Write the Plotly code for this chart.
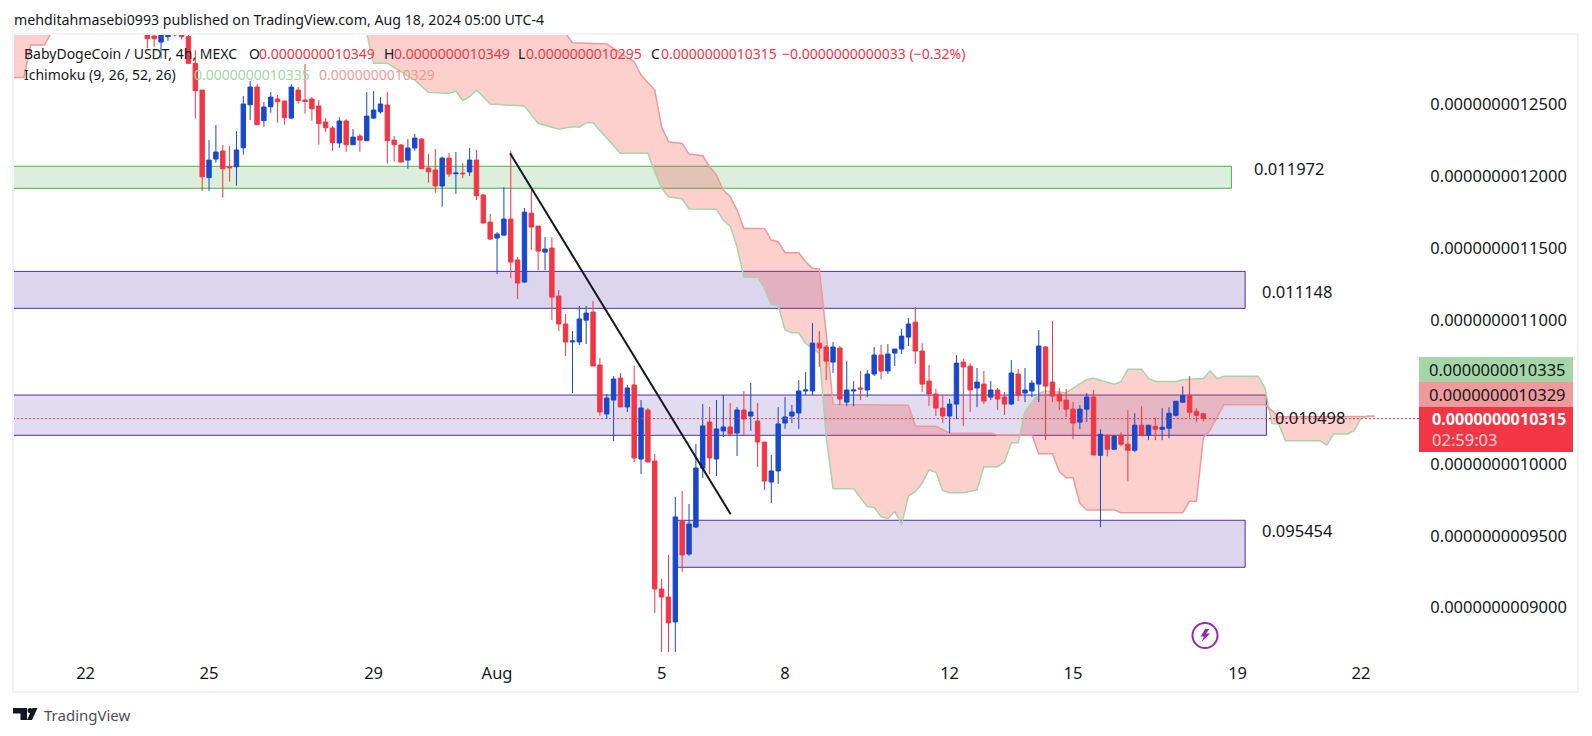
import plotly.graph_objects as go

# prices are kept in units of 1e-13 USDT, bars are counted from Jul 22 00:00 (4h each)
SCALE = 1e-13
PAGE_PAD = 8  # the browser adds this body margin round the figure
W, H = 1576, 720
L_PX, R_PX, T_PX, B_PX = 13, 1420, 34, 656

UP = "#1848cc"
DOWN = "#f23645"
INK = "#131722"

first_bar = 7
bar_open = [13010, 13040, 13020, 12976, 12934, 12971, 12985, 12987, 12971, 12786,
            12600, 11991, 12120, 12176, 12067, 12067, 12199, 12498, 12621, 12387,
            12484, 12538, 12524, 12405, 12600, 12531, 12538, 12489, 12378, 12336,
            12232, 12385, 12220, 12280, 12248, 12405, 12449, 12496, 12252, 12218,
            12113, 12197, 12259, 12058, 12044, 11933, 12127, 12018, 12023, 12030,
            12113, 11870, 11682, 11571, 11591, 11703, 11418, 11265, 11744, 11654,
            11473, 11501, 11167, 10973, 10848, 10848, 11000, 11056, 10688, 10347,
            10444, 10597, 10396, 10549, 10034, 10375, 10020, 9130, 9074, 8901,
            9603, 9373, 9561, 9971, 10291, 10034, 10229, 10257, 10215, 10375,
            10333, 10298, 10152, 9874, 9951, 10284, 10333, 10354, 10507, 10507,
            10840, 10813, 10708, 10806, 10430, 10507, 10528, 10514, 10625, 10757,
            10646, 10771, 10799, 10882, 10986, 10785, 10576, 10486, 10388, 10333,
            10416, 10708, 10680, 10528, 10555, 10465, 10514, 10465, 10416, 10625,
            10493, 10507, 10555, 10813, 10569, 10486, 10444, 10381, 10291, 10381,
            10465, 10060, 10199, 10102, 10199, 10137, 10095, 10269, 10199, 10262,
            10241, 10248, 10338, 10429, 10475, 10366, 10349]
bar_high = [13040, 13080, 13040, 12990, 13030, 13040, 13020, 13010, 13030, 12878,
            12600, 12252, 12357, 12218, 12211, 12315, 12558, 12663, 12642, 12517,
            12586, 12565, 12524, 12642, 12621, 12781, 12551, 12531, 12405, 12350,
            12412, 12398, 12329, 12294, 12586, 12593, 12551, 12586, 12280, 12225,
            12259, 12294, 12266, 12155, 12190, 12137, 12162, 12169, 12092, 12197,
            12183, 11877, 11738, 11612, 11925, 12176, 11438, 11779, 11911, 11654,
            11577, 11577, 11209, 11042, 10924, 11098, 11098, 11132, 10736, 10486,
            10611, 10632, 10549, 10681, 10444, 10389, 10069, 9200, 9367, 9770,
            9812, 9721, 10138, 10417, 10396, 10444, 10479, 10424, 10396, 10507,
            10563, 10424, 10152, 10062, 10396, 10465, 10410, 10583, 10639, 10980,
            10924, 10827, 10847, 10820, 10715, 10576, 10646, 10653, 10813, 10827,
            10833, 10799, 10938, 11014, 11091, 10840, 10687, 10521, 10479, 10451,
            10757, 10729, 10701, 10667, 10646, 10576, 10528, 10500, 10722, 10660,
            10667, 10583, 10931, 10820, 10993, 10528, 10521, 10430, 10409, 10493,
            10514, 10241, 10206, 10199, 10220, 10373, 10352, 10401, 10269, 10324,
            10387, 10394, 10436, 10540, 10610, 10387, 10349]
bar_low = [12985, 13020, 12890, 12901, 12820, 12943, 12975, 12952, 12786, 12403,
           11900, 11900, 12095, 11851, 11963, 11935, 12150, 12392, 12359, 12345,
           12442, 12373, 12359, 12401, 12505, 12436, 12387, 12220, 12310, 12178,
           12199, 12171, 12220, 12171, 12248, 12398, 12436, 12088, 12102, 12099,
           12053, 12178, 12053, 11956, 11886, 11789, 11997, 11877, 11988, 12002,
           11835, 11673, 11557, 11320, 11591, 11292, 11146, 11258, 11487, 11348,
           11348, 11000, 10924, 10750, 10493, 10827, 10834, 10681, 10335, 10312,
           10159, 10396, 10361, 10013, 9930, 10013, 8963, 8692, 8692, 8692,
           9248, 9360, 9554, 9902, 9930, 9916, 10187, 10201, 10055, 10201,
           10229, 9978, 9819, 9728, 9860, 10243, 10284, 10243, 10479, 10479,
           10674, 10583, 10632, 10409, 10402, 10402, 10444, 10465, 10611, 10590,
           10625, 10680, 10764, 10820, 10694, 10500, 10402, 10333, 10284, 10215,
           10312, 10263, 10361, 10395, 10416, 10444, 10375, 10340, 10409, 10437,
           10430, 10465, 10430, 10166, 10430, 10375, 10326, 10173, 10242, 10291,
           10062, 9560, 10053, 10095, 10123, 9879, 10081, 10199, 10165, 10165,
           10165, 10178, 10331, 10429, 10324, 10290, 10295]
bar_close = [13030, 13060, 12957, 12957, 13010, 13010, 13000, 12971, 12786, 12596,
             11997, 12113, 12169, 12053, 12060, 12183, 12503, 12621, 12359, 12482,
             12551, 12519, 12408, 12621, 12526, 12521, 12470, 12366, 12338, 12234,
             12385, 12220, 12273, 12252, 12419, 12461, 12503, 12248, 12220, 12099,
             12197, 12266, 12053, 12032, 11933, 12127, 12016, 12023, 12018, 12113,
             11865, 11675, 11564, 11598, 11703, 11404, 11258, 11751, 11647, 11480,
             11494, 11160, 10973, 10848, 10855, 11008, 11049, 10681, 10361, 10458,
             10590, 10396, 10528, 10041, 10389, 10013, 9130, 9074, 8894, 9631,
             9367, 9582, 9971, 10264, 10041, 10243, 10257, 10208, 10375, 10312,
             10361, 10152, 9881, 9951, 10278, 10326, 10361, 10507, 10514, 10840,
             10806, 10715, 10813, 10451, 10514, 10514, 10521, 10625, 10757, 10646,
             10764, 10799, 10889, 10973, 10785, 10555, 10486, 10388, 10333, 10416,
             10701, 10674, 10514, 10569, 10437, 10514, 10451, 10416, 10632, 10476,
             10514, 10562, 10820, 10541, 10472, 10437, 10381, 10284, 10381, 10465,
             10062, 10206, 10102, 10192, 10137, 10095, 10269, 10199, 10269, 10241,
             10255, 10352, 10436, 10475, 10359, 10338, 10315]

bar_index = list(range(first_bar, first_bar + len(bar_open)))

# the bit of cloud still showing at the far left, closed above the frame
left_cloud_bars = [-11, -9, -8, -6, -5, -11]
left_cloud = [12688, 12688, 12913, 12913, 13000, 13000]

lead_a_bars = [41, 42, 44, 48, 50, 53, 54, 55, 56, 57, 59, 64, 66,
               69, 71, 72, 73, 74, 78, 82, 83, 84, 85, 87, 88, 92, 93, 94, 95, 96, 98, 99, 100,
               101, 102, 103, 104, 105, 107, 108, 109, 112, 114, 115, 116, 117, 118, 119, 120,
               121, 122, 123, 124, 125, 126, 128, 130, 131, 133, 134, 135, 136, 137, 139, 140,
               143, 146, 147, 150, 151, 152, 154, 155, 156, 159, 160, 162, 163, 164, 165, 166,
               171, 172, 173, 174, 175, 180, 181, 182, 184, 185, 186, 187, 188]
lead_a = [12994, 12786, 12786, 12670, 12584,
          12577, 12595, 12526, 12554, 12600, 12503, 12489, 12369, 12327, 12345, 12341, 12373,
          12373, 12160, 12160, 12032, 11917, 11858, 11842, 11773, 11771, 11696, 11654, 11510,
          11298, 11298, 11221, 11112, 11100, 10931, 10912, 10912, 10839, 10769, 10189, 9828,
          9828, 9702, 9698, 9633, 9619, 9670, 9580, 9777, 9807, 9865, 9958, 9942, 9814, 9800,
          9800, 9819, 9981, 9981, 10013, 10148, 10148, 10363, 10491, 10507, 10495, 10588,
          10595, 10554, 10572, 10658, 10658, 10595, 10574, 10574, 10586, 10592, 10592, 10648,
          10592, 10609, 10609, 10526, 10280, 10278, 10161, 10161, 10131, 10208, 10208, 10231,
          10317, 10333, 10333]
lead_b_bars = [70, 71, 76, 80, 81, 83, 84, 85, 87, 88, 90, 91, 92, 93, 94, 95, 96, 99,
               100, 101, 102, 104, 105, 106, 107, 108, 109, 120, 121, 124, 126, 132, 133, 138,
               139, 141, 142, 143, 144, 145, 146, 150, 151, 160, 161, 162, 163, 164, 166, 172,
               174, 188]
lead_b = [12994, 12929, 12920, 12797, 12704, 12600, 12345, 12241, 12229, 12155,
          12143, 12067, 12009, 11905, 11858, 11766, 11638, 11638, 11557, 11545, 11469, 11469,
          11406, 11360, 11355, 10910, 10414, 10408, 10262, 10262, 10213, 10213, 10201, 10201,
          10071, 10071, 9946, 9904, 9904, 9726, 9680, 9680, 9661, 9661, 9740, 9740, 10180,
          10236, 10412, 10412, 10328, 10329]

# zones: left bar, right bar, top price, bottom price, level label
zone_left = [-11, -11, -11, 86.2]
zone_right = [167.1, 169.1, 172.2, 169.1]
zone_top = [12070, 11339, 10479, 9608]
zone_bottom = [11917, 11082, 10199, 9281]
zone_lines = ["#4caf50", "#512da8", "#512da8", "#512da8"]
zone_fills = ["rgba(76,175,80,0.2)", "rgba(81,45,168,0.2)", "rgba(81,45,168,0.17)", "rgba(81,45,168,0.2)"]
zone_labels = ["0.011972", "0.011148", "0.010498", "0.095454"]
label_bars = [175.6, 176.8, 178.7, 176.8]
label_prices = [12058, 11202, 10326, 9534]

trend_bars = [61.9, 94.07]
trend_prices = [12160, 9650]

last_price = 10315
price_ticks = [9000, 9500, 10000, 11000, 11500, 12000, 12500]
time_ticks = [0, 18, 42, 60, 84, 102, 126, 144, 168, 186]
time_labels = ["22", "25", "29", "Aug", "5", "8", "12", "15", "19", "22"]

legend_row = [(23, "BabyDogeCoin / USDT, 4h, MEXC", INK), (248, "O", INK), (258, "0.0000000010349", DOWN),
              (383, "H", INK), (393, "0.0000000010349", DOWN), (517, "L", INK), (525, "0.0000000010295", DOWN),
              (650, "C", INK), (660, "0.0000000010315", DOWN), (781, "−0.0000000000033 (−0.32%)", DOWN)]
study_row = [(23, "Ichimoku (9, 26, 52, 26)", INK), (193, "0.0000000010335", "#a5d6a7"),
             (318, "0.0000000010329", "#ef9a9a")]


def scaled(values):
    return [v * SCALE for v in values]


def px(x):
    return (x - L_PX) / (R_PX - L_PX)


def py(y):
    return (B_PX - y) / (B_PX - T_PX)


def poly(points):
    return "M " + " L ".join(f"{px(x):.5f} {py(y):.5f}" for x, y in points) + " Z"


x_range = [-10.59, 194.6]
y_range = [8664 * SCALE, 12990 * SCALE]

fig = go.Figure()

fig.add_trace(go.Scatter(x=left_cloud_bars, y=scaled(left_cloud), mode="lines",
                         line=dict(color="#ef9a9a", width=1.5), fill="toself",
                         fillcolor="rgba(244,67,54,0.25)", hoverinfo="skip"))
fig.add_trace(go.Scatter(x=lead_a_bars, y=scaled(lead_a), mode="lines",
                         line=dict(color="#a5d6a7", width=1.5), hoverinfo="skip"))
fig.add_trace(go.Scatter(x=lead_b_bars, y=scaled(lead_b), mode="lines",
                         line=dict(color="#ef9a9a", width=1.5), fill="tonexty",
                         fillcolor="rgba(244,67,54,0.25)", hoverinfo="skip"))

# candles sit on an overlay axis, otherwise plotly puts them under the cloud
fig.add_trace(go.Candlestick(x=bar_index, open=scaled(bar_open), high=scaled(bar_high),
                             low=scaled(bar_low), close=scaled(bar_close),
                             xaxis="x2", yaxis="y2",
                             increasing=dict(line=dict(color=UP, width=1), fillcolor=UP),
                             decreasing=dict(line=dict(color=DOWN, width=1), fillcolor=DOWN)))

shapes = []
for i in range(4):
    shapes.append(dict(type="rect", xref="x", yref="y", layer="below",
                       x0=zone_left[i], x1=zone_right[i],
                       y0=zone_bottom[i] * SCALE, y1=zone_top[i] * SCALE,
                       line=dict(color=zone_lines[i], width=1), fillcolor=zone_fills[i]))

shapes.append(dict(type="line", xref="x", yref="y", x0=x_range[0], x1=x_range[1],
                   y0=last_price * SCALE, y1=last_price * SCALE,
                   line=dict(color=DOWN, width=1, dash="2px,2px")))
shapes.append(dict(type="line", xref="x2", yref="y2", x0=trend_bars[0], x1=trend_bars[1],
                   y0=trend_prices[0] * SCALE, y1=trend_prices[1] * SCALE, layer="above",
                   line=dict(color=INK, width=2)))

# chart frame
shapes.append(dict(type="rect", xref="paper", yref="paper", x0=px(13), x1=px(1578),
                   y0=py(692), y1=py(34), line=dict(color="#f0f3fa", width=2)))

# price tags on the right
for top, bottom, colour in [(357, 382, "#a5d6a7"), (382, 407, "#ef9a9a"), (407, 452, DOWN)]:
    shapes.append(dict(type="rect", xref="paper", yref="paper", x0=px(1419), x1=px(1573),
                       y0=py(bottom), y1=py(top), fillcolor=colour, line=dict(width=0), layer="above"))

# lightning icon
shapes.append(dict(type="circle", xref="paper", yref="paper", x0=px(1192.5), x1=px(1217.5),
                   y0=py(648), y1=py(623), line=dict(color="#9c27b0", width=2)))
shapes.append(dict(type="path", xref="paper", yref="paper", line=dict(width=0), fillcolor="#9c27b0",
                   path=poly([(1209.5, 629), (1205, 629), (1200.7, 636.5), (1204, 636.5), (1201.5, 642),
                              (1210, 633.5), (1206, 633.5)])))

# TradingView logo
shapes.append(dict(type="path", xref="paper", yref="paper", line=dict(width=0), fillcolor=INK,
                   path=poly([(13, 708), (27, 708), (27, 720), (20.5, 720), (20.5, 713.5), (13, 713.5)])))
shapes.append(dict(type="circle", xref="paper", yref="paper", x0=px(27.5), x1=px(32.5),
                   y0=py(713), y1=py(708), fillcolor=INK, line=dict(width=0)))
shapes.append(dict(type="path", xref="paper", yref="paper", line=dict(width=0), fillcolor=INK,
                   path=poly([(32.5, 708), (37.5, 708), (32, 720), (27, 720)])))

annotations = []


def note(x, y, text, color=INK, size=14.0, anchor="left"):
    annotations.append(dict(xref="paper", yref="paper", x=px(x), y=py(y), text=text, showarrow=False,
                            xanchor=anchor, yanchor="middle", font=dict(color=color, size=size),
                            borderpad=0))


note(13, 19.5, "mehditahmasebi0993 published on TradingView.com, Aug 18, 2024 05:00 UTC-4", size=14.2)
for x, text, colour in legend_row:
    note(x, 53, text, colour, 14)
for x, text, colour in study_row:
    note(x, 74, text, colour, 14)

for bar, price, text in zip(label_bars, label_prices, zone_labels):
    annotations.append(dict(xref="x", yref="y", x=bar, y=price * SCALE, text=text, showarrow=False,
                            font=dict(color=INK, size=16.5)))

note(1567, 369.5, "0.0000000010335", INK, 16.5, "right")
note(1567, 394.5, "0.0000000010329", INK, 16.5, "right")
note(1567, 419, "<b>0.0000000010315</b>", "#ffffff", 16.2, "right")
note(1431, 439, "02:59:03", "#fcd5d8", 16.5)
note(43, 715, "TradingView", "#4a4e59", 15)

axis_off = dict(visible=False, showgrid=False, zeroline=False)

fig.update_layout(
    width=W,
    height=H,
    margin=dict(l=L_PX - PAGE_PAD, r=W - (R_PX - PAGE_PAD), t=T_PX - PAGE_PAD, b=H - (B_PX - PAGE_PAD), pad=0),
    paper_bgcolor="white",
    plot_bgcolor="white",
    autosize=False,
    showlegend=False,
    boxgap=0.3,
    boxgroupgap=0.08,
    font=dict(family="Noto Sans", color=INK),
    shapes=shapes,
    annotations=annotations,
    xaxis=dict(range=x_range, tickmode="array", tickvals=time_ticks, ticktext=time_labels,
               showgrid=False, zeroline=False, showline=False, ticks="outside", ticklen=2,
               tickcolor="rgba(0,0,0,0)", tickfont=dict(size=16.5), tickangle=0),
    yaxis=dict(range=y_range, side="right", tickmode="array", tickvals=scaled(price_ticks),
               tickformat=".13f", showgrid=False, zeroline=False, showline=False, ticks="outside",
               ticklen=6, tickcolor="rgba(0,0,0,0)", tickfont=dict(size=16.5)),
    xaxis2=dict(range=x_range, overlaying="x", anchor="y2", rangeslider=dict(visible=False), **axis_off),
    yaxis2=dict(range=y_range, overlaying="y", anchor="x2", side="right", **axis_off),
)

fig.write_html("out.html")
